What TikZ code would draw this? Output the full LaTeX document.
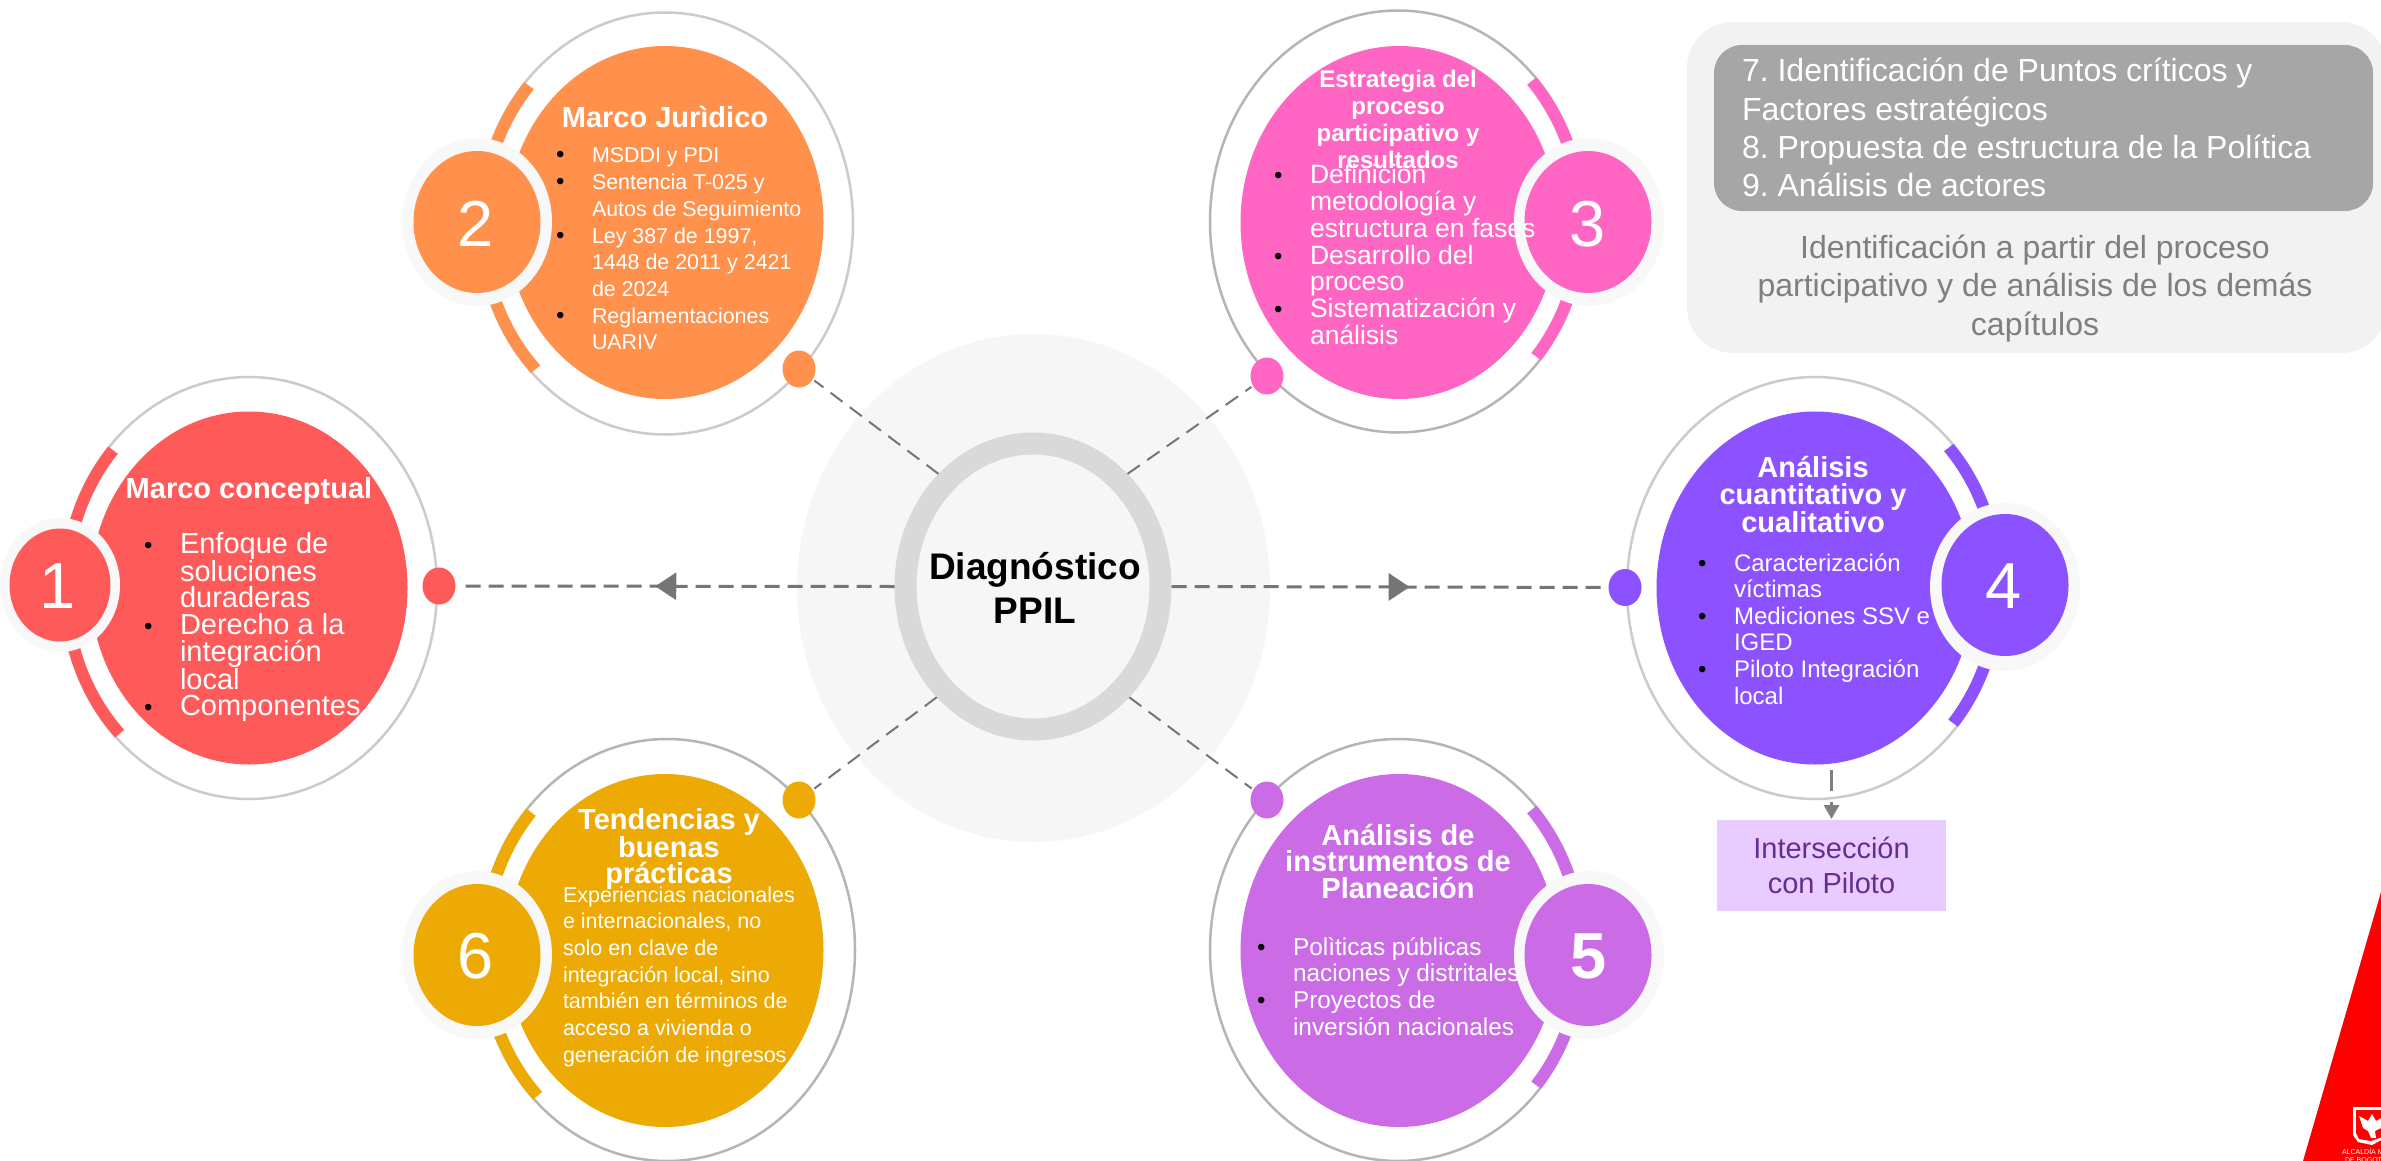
\documentclass[tikz,border=0pt]{standalone}
\usepackage{fontspec}
\setmainfont{Liberation Sans}
\frenchspacing
\usetikzlibrary{shapes.geometric,arrows.meta,decorations.markings}
\definecolor{cone}{HTML}{FF5A5A}
\definecolor{ctwo}{HTML}{FF914D}
\definecolor{cthree}{HTML}{FF66C4}
\definecolor{cfour}{HTML}{8C52FF}
\definecolor{cfive}{HTML}{CB6CE6}
\definecolor{csix}{HTML}{EDAA05}
\definecolor{ringlight}{HTML}{CBCBCB}
\definecolor{ringdark}{HTML}{B5B5B5}
\definecolor{halo}{HTML}{F8F8F8}
\definecolor{hubbg}{HTML}{F6F6F6}
\definecolor{hubring}{HTML}{D9D9D9}
\definecolor{linkgray}{HTML}{757575}
\definecolor{panelbg}{HTML}{F2F2F2}
\definecolor{panelin}{HTML}{A6A6A6}
\definecolor{paneltxt}{HTML}{7F7F7F}
\definecolor{boxbg}{HTML}{E8CCFF}
\definecolor{boxtxt}{HTML}{662D91}
\tikzset{
  oval/.style={ellipse,inner sep=0pt,outer sep=0pt,draw=none},
  disc/.style={oval,minimum width=317pt,minimum height=353pt},
  ringoval/.style={oval,minimum width=376pt,minimum height=422pt,line width=2.5pt},
  halooval/.style={oval,fill=halo,minimum width=150pt,minimum height=168pt},
  badgeoval/.style={oval,minimum width=127pt,minimum height=142pt},
  smallhalo/.style={oval,fill=halo,minimum width=120pt,minimum height=134pt},
  smallbadge/.style={oval,minimum width=101pt,minimum height=113pt},
  knob/.style={oval,minimum width=33pt,minimum height=37pt},
  txt/.style={inner sep=0pt,outer sep=0pt,text=white},
  diaglink/.style={draw=linkgray,line width=2pt,dash pattern=on 15pt off 9pt},
  horlink/.style={draw=linkgray,line width=3pt,dash pattern=on 15pt off 8pt,
    postaction={decorate},
    decoration={markings,mark=at position .545 with {\arrow[linkgray,solid]{Triangle[length=21pt,width=27pt]}}}},
}
% id, colour, ring colour, main x,y, ring x,y, accent start, accent end
\newcommand{\cardbase}[9]{%
  \node[ringoval,draw=#3] (ring#1) at (#6,#7) {};
  \draw[#2,line width=12pt] plot[domain=#8:#9,samples=40] ({#6+183*cos(\x)},{#7+206*sin(\x)});
  \node[disc,fill=#2] (main#1) at (#4,#5) {};
}
% bullets: line with bullet, plain continuation line
\newcommand{\bu}{\makebox[0pt][r]{\makebox[36pt][l]{\fontsize{24}{24}\selectfont\textcolor{black}{•}}}}
% left block: name, x, y, size, pitch, text
\newcommand{\lblock}[6]{\node[txt,anchor=base west] (#1) at (#2,#3) {\parbox[t]{420pt}{\raggedright\fontsize{#4}{#5}\selectfont #6}};}
% centred block: name, x, y, size, pitch, text
\newcommand{\cblock}[6]{\node[txt,anchor=base] (#1) at (#2,#3) {\parbox[t]{420pt}{\centering\fontsize{#4}{#5}\selectfont\bfseries #6}};}
\newcommand{\numb}[5]{\node[txt,anchor=base] (#1) at (#2,#3) {\fontsize{65}{65}\selectfont #5#4};}
\begin{document}
\begin{tikzpicture}[x=1pt,y=-1pt]
\clip (0,0) rectangle (2381,1161);
\fill[white] (0,0) rectangle (2381,1161);
% logo corner
\fill[red] (2381,892) -- (2303,1161) -- (2381,1161) -- cycle;
\fill[white] (2353,1107) -- (2385,1107) -- (2385,1138) -- (2372,1145) -- (2358,1142) -- (2353,1135) -- cycle;
\fill[red] (2356,1110) -- (2385,1110) -- (2385,1136) -- (2371,1141) -- (2359,1139) -- (2356,1133) -- cycle;
\fill[white] (2359,1116) -- (2368,1121) -- (2372,1114) -- (2376,1121) -- (2385,1116) -- (2381,1128) -- (2375,1131) -- (2376,1138) -- (2371,1138) -- (2368,1131) -- (2363,1128) -- cycle;
\node[txt,anchor=base west] (logoa) at (2342,1154) {\fontsize{7}{7}\selectfont ALCALDÍA M};
\node[txt,anchor=base west] (logob) at (2345,1162) {\fontsize{7}{7}\selectfont DE BOGOTÁ};
% top-right panel
\node[rectangle,fill=panelbg,rounded corners=46pt,minimum width=700pt,minimum height=331pt,inner sep=0pt,outer sep=0pt,anchor=north west] (panel) at (1687,22) {};
\node[rectangle,fill=panelin,rounded corners=28pt,minimum width=659pt,minimum height=166pt,inner sep=0pt,outer sep=0pt,anchor=north west] (panelinner) at (1714,45) {};
\node[txt,anchor=base west] (paneltext) at (1742,82) {\parbox[t]{640pt}{\raggedright\fontsize{32}{38.3}\selectfont 7. Identificación de Puntos críticos y\\Factores estratégicos\\8. Propuesta de estructura de la Política\\9. Análisis de actores}};
\node[txt,anchor=base,text=paneltxt] (panelnote) at (2035,258) {\parbox[t]{660pt}{\centering\fontsize{32}{38.5}\selectfont Identificación a partir del proceso\\participativo y de análisis de los demás\\capítulos}};
% hub
\node[oval,fill=hubbg,minimum width=473pt,minimum height=508pt] (hubback) at (1033.5,588) {};
\node[ellipse,draw=hubring,fill=hubbg,line width=22pt,inner sep=0pt,minimum width=255pt,minimum height=286pt] (hub) at (1033,586.5) {};
% cards
\cardbase{1}{cone}{ringlight}{249}{588}{249}{588}{135}{222}
\cardbase{2}{ctwo}{ringlight}{665}{222.5}{665}{223.5}{135}{222}
\cardbase{3}{cthree}{ringdark}{1399}{222.5}{1398}{221.5}{-43}{41}
\cardbase{4}{cfour}{ringlight}{1815}{588}{1815}{588}{-43}{41}
\cardbase{5}{cfive}{ringdark}{1399}{950.5}{1398}{950}{-43}{41}
\cardbase{6}{csix}{ringdark}{665}{950.5}{667}{950}{135}{222}
% halos and badges
\node[smallhalo] (haloone) at (60,585) {};
\node[smallbadge,fill=cone] (badgeone) at (60,585) {};
\node[halooval] (halotwo) at (477,222) {};
\node[badgeoval,fill=ctwo] (badgetwo) at (477,222) {};
\node[halooval] (halothree) at (1589,222) {};
\node[badgeoval,fill=cthree] (badgethree) at (1588,222) {};
\node[halooval] (halofour) at (2005,587) {};
\node[badgeoval,fill=cfour] (badgefour) at (2005,585) {};
\node[halooval] (halofive) at (1589,955) {};
\node[badgeoval,fill=cfive] (badgefive) at (1588,955) {};
\node[halooval] (halosix) at (477,955) {};
\node[badgeoval,fill=csix] (badgesix) at (477,955) {};
% knobs
\node[knob,fill=cone] (knobone) at (439,586) {};
\node[knob,fill=ctwo] (knobtwo) at (799,369) {};
\node[knob,fill=cthree] (knobthree) at (1267,376) {};
\node[knob,fill=cfour] (knobfour) at (1625,587.5) {};
\node[knob,fill=cfive] (knobfive) at (1267,800) {};
\node[knob,fill=csix] (knobsix) at (799,800) {};
% connectors
\draw[horlink,shorten >=4pt] (hub.west) -- (knobone);
\draw[horlink,shorten >=2pt] (hub.east) -- (knobfour);
\draw[diaglink,shorten >=2pt] (hub.130) -- (knobtwo);
\draw[diaglink,shorten >=2pt] (hub.50) -- (knobthree);
\draw[diaglink,shorten >=2pt] (hub.311) -- (knobfive);
\draw[diaglink,shorten >=2pt] (hub.229) -- (knobsix);
% intersection box
\node[rectangle,fill=boxbg,minimum width=229pt,minimum height=91pt,inner sep=0pt,outer sep=0pt] (box) at (1831.5,865.5) {};
\draw[draw=gray,line width=3pt,dash pattern=on 21pt off 11pt,-{Triangle[length=14pt,width=15pt]},shorten >=1pt]
  ([yshift=-5pt]box.north |- main4.south) -- (box.north);
\node[txt,anchor=base,text=boxtxt] (boxlabel) at (1831.5,858) {\parbox[t]{220pt}{\centering\fontsize{29}{35}\selectfont Intersección\\con Piloto}};
% numbers
\numb{numone}{58}{608}{1}{}
\numb{numtwo}{476}{246}{2}{}
\numb{numthree}{1588}{246}{3}{}
\numb{numfour}{2004}{608}{4}{}
\numb{numfive}{1589}{978}{5}{\bfseries}
\numb{numsix}{476}{978}{6}{}
% hub text
\node[txt,anchor=base,text=black] (hubtext) at (1035,579) {\parbox[t]{260pt}{\centering\fontsize{37}{44}\selectfont\bfseries Diagnóstico\\PPIL}};
% card 1
\cblock{titleone}{249}{498}{29}{27}{Marco conceptual}
\lblock{bodyone}{180}{553}{29}{26.7}{\bu Enfoque de\\soluciones\\duraderas\\\bu Derecho a la\\integración\\local\\\bu Componentes}
% card 2
\cblock{titletwo}{665}{128}{29}{27}{Marco Jurìdico}
\lblock{bodytwo}{592}{163}{21.4}{26.7}{\bu MSDDI y PDI\\\bu Sentencia T-025 y\\Autos de Seguimiento\\\bu Ley 387 de 1997,\\1448 de 2011 y 2421\\de 2024\\\bu Reglamentaciones\\UARIV}
% card 3
\cblock{titlethree}{1398}{88}{24}{26.9}{Estrategia del\\proceso\\participativo y\\resultados}
\lblock{bodythree}{1310}{184}{26.5}{26.7}{\bu Definición\\metodología y\\estructura en fases\\\bu Desarrollo del\\proceso\\\bu Sistematización y\\análisis}
% card 4
\cblock{titlefour}{1813}{477}{29}{27}{Análisis\\cuantitativo y\\cualitativo}
\lblock{bodyfour}{1734}{571}{24}{26.6}{\bu Caracterización\\víctimas\\\bu Mediciones SSV e\\IGED\\\bu Piloto Integración\\local}
% card 5
\cblock{titlefive}{1398}{845}{29}{26.6}{Análisis de\\instrumentos de\\Planeación}
\lblock{bodyfive}{1293}{955}{24.4}{26.7}{\bu Polìticas públicas\\naciones y distritales\\\bu Proyectos de\\inversión nacionales}
% card 6
\cblock{titlesix}{669}{829}{29}{26.6}{Tendencias y\\buenas\\prácticas}
\lblock{bodysix}{563}{902}{21.5}{26.7}{Experiencias nacionales\\e internacionales, no\\solo en clave de\\integración local, sino\\también en términos de\\acceso a vivienda o\\generación de ingresos}
\end{tikzpicture}
\end{document}
